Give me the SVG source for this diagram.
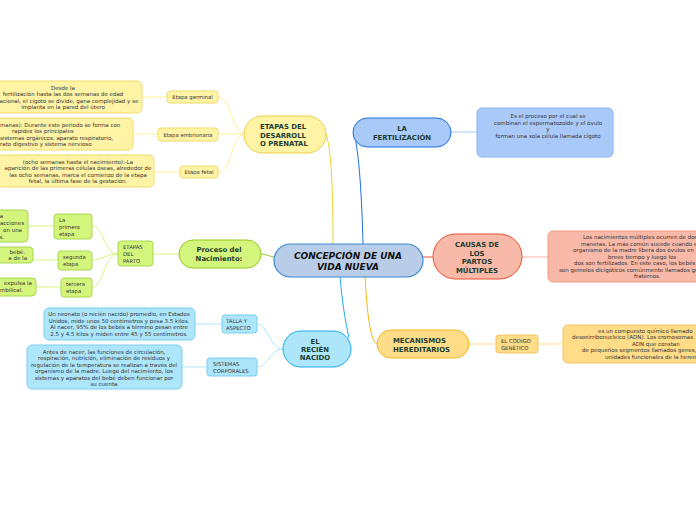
<svg xmlns="http://www.w3.org/2000/svg" width="696" height="520" viewBox="0 0 696 520">
<style>
text{font-family:"DejaVu Sans","Liberation Sans",sans-serif;}
.d{font-size:5.5px;fill:#333;}
.s{font-size:5.3px;fill:#333;}
.m{font-size:6.9px;font-weight:bold;fill:#1a3d30;}
.c{font-size:9px;font-weight:bold;font-style:italic;fill:#111;}
.y{fill:#fff4a6;stroke:#f0dc6a;stroke-width:1;}
.g{fill:#d4f57c;stroke:#a8d850;stroke-width:1;}
.b{fill:#ade6fa;stroke:#7cccf2;stroke-width:1;}
.f{fill:#a9c9f8;stroke:#8ab2f2;stroke-width:1;}
.r{fill:#f8b9a8;stroke:#f09a86;stroke-width:1;}
.o{fill:#ffdc88;stroke:#f4c460;stroke-width:1;}
.l{fill:none;stroke-width:1;}
</style>
<rect width="696" height="520" fill="#fff"/>
<g id="connectors">
<path class="l" d="M363,245 C 362,200 359,150 354,134" stroke="#1b6fe0" stroke-width="1.6"/>
<path class="l" d="M333,245 C 333,200 332,150 326,134" stroke="#f0d030" stroke-width="1.6"/>
<path class="l" d="M423,257 L 433,257" stroke="#e85a30" stroke-width="1.6"/>
<path class="l" d="M365,277 C 367,310 370,344 378,344" stroke="#f8b810" stroke-width="1.6"/>
<path class="l" d="M340,277 C 342,300 345,320 349,338" stroke="#20a8f0" stroke-width="1.6"/>
<path class="l" d="M274,257 C 268,256 266,254 261,254" stroke="#90c820" stroke-width="1.6"/>
<path class="l" d="M451,132 L 477,132" stroke="#a9c9f8" stroke-width="1.4"/>
<path class="l" d="M522,257 L 548,257" stroke="#f8b9a8" stroke-width="1.4"/>
<path class="l" d="M469,344 L 496,344 M538,344 L 563,344" stroke="#ffdc88" stroke-width="1.4"/>
<path class="l" d="M244,134 C 232,134 232,97 218,97 M244,134 L 218,134 M244,134 C 232,134 232,172 218,172" stroke="#fff09a" stroke-width="1.2"/>
<path class="l" d="M167,97 L 142,97 M158,134 L 133,134 M180,172 L 154,172" stroke="#fff09a" stroke-width="1.2"/>
<path class="l" d="M179,254 L 153,254" stroke="#d4f57c" stroke-width="1.2"/>
<path class="l" d="M118,254 C 104,254 104,226 92,226 M118,254 C 104,254 104,260 92,260 M118,254 C 104,254 104,287 92,287" stroke="#d4f57c" stroke-width="1.2"/>
<path class="l" d="M54,226 L 28,226 M58,260 L 33,260 M61,287 L 36,287" stroke="#d4f57c" stroke-width="1.2"/>
<path class="l" d="M283,349 C 270,349 268,324 257,324 M283,349 C 270,349 268,367 257,367" stroke="#ade6fa" stroke-width="1.2"/>
<path class="l" d="M222,324 L 188,324 M207,367 L 182,367" stroke="#ade6fa" stroke-width="1.2"/>
</g>
<g id="center">
<rect x="274" y="244" width="149" height="33" rx="16.5" fill="#b9cde8" stroke="#3a8ad0" stroke-width="1.2"/>
<text class="c" x="348" y="259" text-anchor="middle">CONCEPCIÓN DE UNA</text>
<text class="c" x="348" y="270" text-anchor="middle">VIDA NUEVA</text>
</g>
<g id="fertilizacion">
<rect x="353" y="118" width="98" height="29" rx="14.5" fill="#a9c9f8" stroke="#1b6fe0" stroke-width="1"/>
<text class="m" x="402" y="130.5" text-anchor="middle">LA</text>
<text class="m" x="402" y="139.5" text-anchor="middle">FERTILIZACIÓN</text>
</g>
<g id="fertilizacion-desc">
<rect class="f" x="477" y="108" width="136" height="49" rx="5"/>
<text class="d" x="548" y="118" text-anchor="middle">Es el proceso por el cual se</text>
<text class="d" x="548" y="124.5" text-anchor="middle">combinan el espermatozoide y el óvulo</text>
<text class="d" x="548" y="131" text-anchor="middle">y</text>
<text class="d" x="548" y="137.5" text-anchor="middle">forman una sola célula llamada cigoto</text>
<text class="d" x="548" y="144" text-anchor="middle">.</text>
</g>
<g id="etapas-prenatal">
<rect x="244" y="116" width="82" height="37" rx="18.5" fill="#fff4a6" stroke="#ecd040" stroke-width="1"/>
<text class="m" x="260" y="129">ETAPAS DEL</text>
<text class="m" x="260" y="137.5">DESARROLL</text>
<text class="m" x="260" y="146">O PRENATAL</text>
</g>
<g id="etapa-germinal">
<rect class="y" x="167" y="91" width="51" height="12" rx="3"/>
<text class="s" x="192.5" y="99" text-anchor="middle">Etapa germinal</text>
</g>
<g id="etapa-embrionaria">
<rect class="y" x="158" y="128" width="60" height="13" rx="3"/>
<text class="s" x="188" y="136.5" text-anchor="middle">Etapa embrionaria</text>
</g>
<g id="etapa-fetal">
<rect class="y" x="180" y="166" width="38" height="12" rx="3"/>
<text class="s" x="199" y="174" text-anchor="middle">Etapa fetal</text>
</g>
<g id="germinal-desc">
<rect class="y" x="-8" y="81" width="150" height="32" rx="5"/>
<text class="d" x="63" y="89.5" text-anchor="middle">Desde la</text>
<text class="d" x="63" y="96" text-anchor="middle">fertilización hasta las dos semanas de edad</text>
<text class="d" x="63" y="102.5" text-anchor="middle">gestacional, el cigoto se divide, gana complejidad y se</text>
<text class="d" x="63" y="109" text-anchor="middle">implanta en la pared del útero</text>
</g>
<g id="embrionaria-desc">
<rect class="y" x="-8" y="118" width="141" height="32" rx="5"/>
<text class="d" x="0" y="126.5">manas): Durante este periodo se forma con</text>
<text class="d" x="12" y="133">rapidez los principales</text>
<text class="d" x="0" y="139.5">sistemas orgánicos: aparato respiratorio,</text>
<text class="d" x="0" y="146">rato digestivo y sistema nervioso</text>
</g>
<g id="fetal-desc">
<rect class="y" x="-2" y="155" width="156" height="32" rx="5"/>
<text class="d" x="78" y="163.5" text-anchor="middle">(ocho semanas hasta el nacimiento):-La</text>
<text class="d" x="78" y="170" text-anchor="middle">aparición de las primeras células óseas, alrededor de</text>
<text class="d" x="78" y="176.5" text-anchor="middle">las ocho semanas, marca el comienzo de la etapa</text>
<text class="d" x="78" y="183" text-anchor="middle">fetal, la última fase de la gestación.</text>
</g>
<g id="proceso">
<rect x="179" y="240" width="82" height="28" rx="14" fill="#d4f57c" stroke="#90c820" stroke-width="1"/>
<text class="m" x="219" y="252" text-anchor="middle">Proceso del</text>
<text class="m" x="219" y="261" text-anchor="middle">Nacimiento:</text>
</g>
<g id="etapas-parto">
<rect class="g" x="118" y="241" width="35" height="25" rx="3"/>
<text class="s" x="123" y="248.5">ETAPAS</text>
<text class="s" x="123" y="255.5">DEL</text>
<text class="s" x="123" y="262.5">PARTO</text>
</g>
<g id="primera">
<rect class="g" x="54" y="214" width="38" height="25" rx="3"/>
<text class="s" x="59" y="221.5">La</text>
<text class="s" x="59" y="228.5">primera</text>
<text class="s" x="59" y="235.5">etapa</text>
</g>
<g id="segunda">
<rect class="g" x="58" y="251" width="34" height="19" rx="3"/>
<text class="s" x="63" y="258.5">segunda</text>
<text class="s" x="63" y="265.5">etapa</text>
</g>
<g id="tercera">
<rect class="g" x="61" y="278" width="31" height="19" rx="3"/>
<text class="s" x="66" y="285.5">tercera</text>
<text class="s" x="66" y="292.5">etapa</text>
</g>
<g id="primera-desc">
<rect class="g" x="-8" y="210" width="36" height="32" rx="4"/>
<text class="d" x="3" y="217.5" text-anchor="end">a</text>
<text class="d" x="24" y="225" text-anchor="end">racciones</text>
<text class="d" x="22" y="232" text-anchor="end">on una</text>
<text class="d" x="4" y="239" text-anchor="end">s.</text>
</g>
<g id="segunda-desc">
<rect class="g" x="-8" y="247" width="41" height="16" rx="4"/>
<text class="d" x="25" y="253.5" text-anchor="end">bebé.</text>
<text class="d" x="27" y="260" text-anchor="end">a de la</text>
</g>
<g id="tercera-desc">
<rect class="g" x="-8" y="278" width="44" height="18" rx="4"/>
<text class="d" x="32" y="285" text-anchor="end">expulsa la</text>
<text class="d" x="23" y="292" text-anchor="end">mbilical.</text>
</g>
<g id="recien-nacido">
<rect x="283" y="331" width="68" height="36" rx="18" fill="#ade6fa" stroke="#20a8f0" stroke-width="1"/>
<text class="m" x="315" y="343.5" text-anchor="middle">EL</text>
<text class="m" x="315" y="351.5" text-anchor="middle">RECIÉN</text>
<text class="m" x="315" y="359.5" text-anchor="middle">NACIDO</text>
</g>
<g id="talla">
<rect class="b" x="222" y="315" width="35" height="18" rx="3"/>
<text class="s" x="226" y="322.5">TALLA Y</text>
<text class="s" x="226" y="329.5">ASPECTO</text>
</g>
<g id="sistemas">
<rect class="b" x="207" y="358" width="50" height="18" rx="3"/>
<text class="s" x="213" y="365.5">SISTEMAS</text>
<text class="s" x="213" y="372.5">CORPORALES</text>
</g>
<g id="talla-desc">
<rect class="b" x="44" y="308" width="151" height="32" rx="5"/>
<text class="d" x="119" y="316" text-anchor="middle">Un neonato (o recién nacido) promedio, en Estados</text>
<text class="d" x="119" y="322.5" text-anchor="middle">Unidos, mide unos 50 centímetros y pesa 3.5 kilos.</text>
<text class="d" x="119" y="329" text-anchor="middle">Al nacer, 95% de los bebés a término pesan entre</text>
<text class="d" x="119" y="335.5" text-anchor="middle">2.5 y 4.5 kilos y miden entre 45 y 55 centímetros.</text>
</g>
<g id="sistemas-desc">
<rect class="b" x="27" y="345" width="155" height="44" rx="5"/>
<text class="d" x="104" y="353.5" text-anchor="middle">Antes de nacer, las funciones de circulación,</text>
<text class="d" x="104" y="360" text-anchor="middle">respiración, nutrición, eliminación de residuos y</text>
<text class="d" x="104" y="366.5" text-anchor="middle">regulación de la temperatura se realizan a través del</text>
<text class="d" x="104" y="373" text-anchor="middle">organismo de la madre. Luego del nacimiento, los</text>
<text class="d" x="104" y="379.5" text-anchor="middle">sistemas y aparatos del bebé deben funcionar por</text>
<text class="d" x="104" y="386" text-anchor="middle">su cuenta</text>
</g>
<g id="causas">
<rect x="433" y="234" width="89" height="45" rx="22.5" fill="#f8b9a8" stroke="#e85030" stroke-width="1"/>
<text class="m" x="477" y="247" text-anchor="middle">CAUSAS DE</text>
<text class="m" x="477" y="255.5" text-anchor="middle">LOS</text>
<text class="m" x="477" y="264" text-anchor="middle">PARTOS</text>
<text class="m" x="477" y="272.5" text-anchor="middle">MÚLTIPLES</text>
</g>
<g id="causas-desc">
<rect class="r" x="548" y="231" width="160" height="51" rx="5"/>
<text class="d" x="583" y="239">Los nacimientos múltiples ocurren de dos</text>
<text class="d" x="581" y="245.5">maneras. La más común sucede cuando el</text>
<text class="d" x="573" y="252">organismo de la madre libera dos óvulos en</text>
<text class="d" x="608" y="258.5">breve tiempo y luego los</text>
<text class="d" x="574" y="265">dos son fertilizados. En este caso, los bebés</text>
<text class="d" x="559" y="271.5">son gemelos dicigóticos comúnmente llamados gemelos</text>
<text class="d" x="634" y="278">fraternos.</text>
</g>
<g id="mecanismos">
<rect x="377" y="330" width="92" height="28" rx="14" fill="#ffdc88" stroke="#f4b820" stroke-width="1"/>
<text class="m" x="393" y="342.5">MECANISMOS</text>
<text class="m" x="393" y="351.5">HEREDITARIOS</text>
</g>
<g id="codigo">
<rect class="o" x="496" y="335" width="42" height="18" rx="3"/>
<text class="s" x="501" y="342.5">EL CÓDIGO</text>
<text class="s" x="501" y="349.5">GENÉTICO</text>
</g>
<g id="codigo-desc">
<rect class="o" x="563" y="325" width="140" height="38" rx="5"/>
<text class="d" x="598" y="332.5">es un compuesto químico llamado</text>
<text class="d" x="572" y="339">desoxirribonucleico (ADN). Los cromosomas</text>
<text class="d" x="632" y="345.5">ADN que constan</text>
<text class="d" x="582" y="352">de pequeños segmentos llamados genes,</text>
<text class="d" x="605" y="358.5">unidades funcionales de la herencia</text>
</g>
</svg>
